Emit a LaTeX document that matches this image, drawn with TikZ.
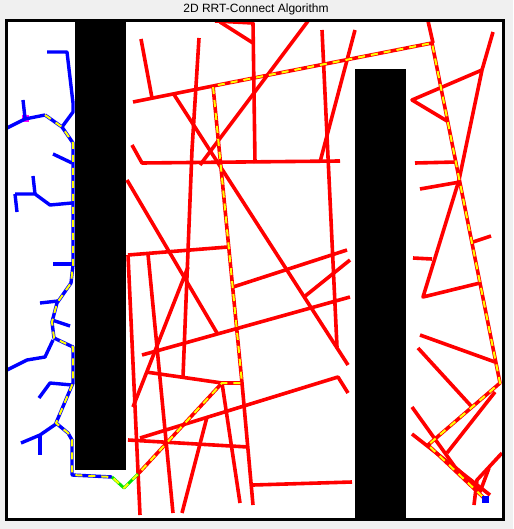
\documentclass[tikz,border=0pt]{standalone}
\usepackage{fontspec}
\setmainfont{Liberation Sans}
\definecolor{figbg}{RGB}{240,240,240}
\definecolor{tred}{RGB}{255,0,0}
\definecolor{tblue}{RGB}{0,0,255}
\definecolor{tyel}{RGB}{255,255,0}
\definecolor{tgreen}{RGB}{0,230,0}
\definecolor{tmag}{RGB}{255,0,255}
\begin{document}
\begin{tikzpicture}[x=1pt,y=-1pt,
  redtree/.style={draw=tred,line width=3.6pt,line join=round},
  bluetree/.style={draw=tblue,line width=3.4pt,line join=round},
  connect/.style={draw=tgreen,line width=3pt,line join=round},
  pathdash/.style={draw=tyel,line width=2pt,dash pattern=on 7pt off 6pt,line join=round},
  obstacle/.style={fill=black},
  marker/.style={inner sep=0pt,minimum size=7pt,draw=none}]
\useasboundingbox (0,0) rectangle (513,529);
\fill[figbg] (0,0) rectangle (513,529);
\fill[white] (6.5,20.3) rectangle (503.5,519.5);
% obstacles
\fill[obstacle] (75,22) rectangle (125.7,470);
\fill[obstacle] (355,69) rectangle (406,518);
% start marker
\node[marker,fill=tmag] (start) at (25,119) {};
% red tree
\path[redtree] (133,102) -- (213,86);
\path[redtree] (213,86) -- (432,43);
\path[redtree] (141,39) -- (152,98);
\path[redtree] (199,38) -- (192,150) -- (183,377);
\path[redtree] (215,21) -- (253,23) -- (255,163);
\path[redtree] (220,22) -- (253,43);
\path[redtree] (308,21) -- (200,165);
\path[redtree] (173,93) -- (348,365);
\path[redtree] (132,145) -- (142,163) -- (340,161);
\path[redtree] (127,180) -- (217,333);
\path[redtree] (128,255) -- (228,247);
\path[redtree] (128,255) -- (140,515);
\path[redtree] (148,254) -- (173,513);
\path[redtree] (188,267) -- (133,407);
\path[redtree] (233,287) -- (347,250);
\path[redtree] (142,355) -- (350,297);
\path[redtree] (350,260) -- (304,297);
\path[redtree] (146,372) -- (222,383);
\path[redtree] (222,383) -- (240,503);
\path[redtree] (242,383) -- (253,505);
\path[redtree] (253,485) -- (352,482);
\path[redtree] (128,440) -- (248,447);
\path[redtree] (140,438) -- (338,377) -- (348,393);
\path[redtree] (207,417) -- (182,513);
\path[redtree] (322,30) -- (337,347);
\path[redtree] (355,30) -- (320,162);
\path[redtree] (428,21) -- (433,43);
\path[redtree] (493,32) -- (482,70) -- (459,180) -- (423,297) -- (480,283);
\path[redtree] (482,70) -- (412,100) -- (447,121);
\path[redtree] (415,163) -- (457,162);
\path[redtree] (420,189) -- (460,182);
\path[redtree] (413,258) -- (432,259);
\path[redtree] (473,242) -- (491,236);
\path[redtree] (420,335) -- (495,362);
\path[redtree] (418,348) -- (472,407);
\path[redtree] (495,392) -- (447,453);
\path[redtree] (412,407) -- (455,467) -- (480,490);
\path[redtree] (412,434) -- (490,495);
\path[redtree] (502,453) -- (477,480) -- (474,505);
\path[redtree] (489,468) -- (480,492);
\path[redtree] (432,43) -- (500,383) -- (428,445) -- (484,498);
\path[redtree] (213,86) -- (242,383) -- (222,383) -- (138,474);
% blue tree
\path[bluetree] (47,52) -- (67,52) -- (73,103) -- (73,112) -- (62,127);
\path[bluetree] (7,128) -- (25,119) -- (45,115);
\path[bluetree] (23,100) -- (25,118);
\path[bluetree] (45,115) -- (62,127) -- (73,143) -- (73,265) -- (71,283) -- (57,303) -- (52,322) -- (54,338) -- (73,347) -- (73,383) -- (56,423) -- (68,433) -- (72,440) -- (72,475) -- (112,477);
\path[bluetree] (53,154) -- (72,163);
\path[bluetree] (33,176) -- (35,194);
\path[bluetree] (15,194) -- (35,194) -- (50,205) -- (72,203);
\path[bluetree] (15,194) -- (17,212);
\path[bluetree] (53,264) -- (72,264);
\path[bluetree] (40,303) -- (58,301);
\path[bluetree] (52,320) -- (70,326);
\path[bluetree] (53,340) -- (45,357) -- (27,360) -- (7,370);
\path[bluetree] (39,398) -- (50,383) -- (72,385);
\path[bluetree] (21,443) -- (40,435) -- (56,424);
\path[bluetree] (40,435) -- (40,455);
% connection
\path[connect] (112,477) -- (124,488) -- (138,474);
% final path
\path[pathdash] (45,115) -- (62,127) -- (73,143) -- (73,265) -- (71,283) -- (57,303) -- (52,322) -- (54,338) -- (73,347) -- (73,383) -- (56,423) -- (68,433) -- (72,440) -- (72,475) -- (112,477) -- (124,488) -- (138,474) -- (222,383) -- (242,383) -- (213,86) -- (432,43) -- (500,383) -- (428,445) -- (484,498);
% goal marker
\node[marker,fill=tblue] (goal) at (485.5,499.5) {};
% frame
\draw[line width=3pt] (6.5,20.3) rectangle (503.5,519.5);
\node[anchor=base,inner sep=0pt,font=\fontsize{12}{14}\selectfont] (title) at (256,12.3) {2D RRT-Connect Algorithm};
\end{tikzpicture}
\end{document}
